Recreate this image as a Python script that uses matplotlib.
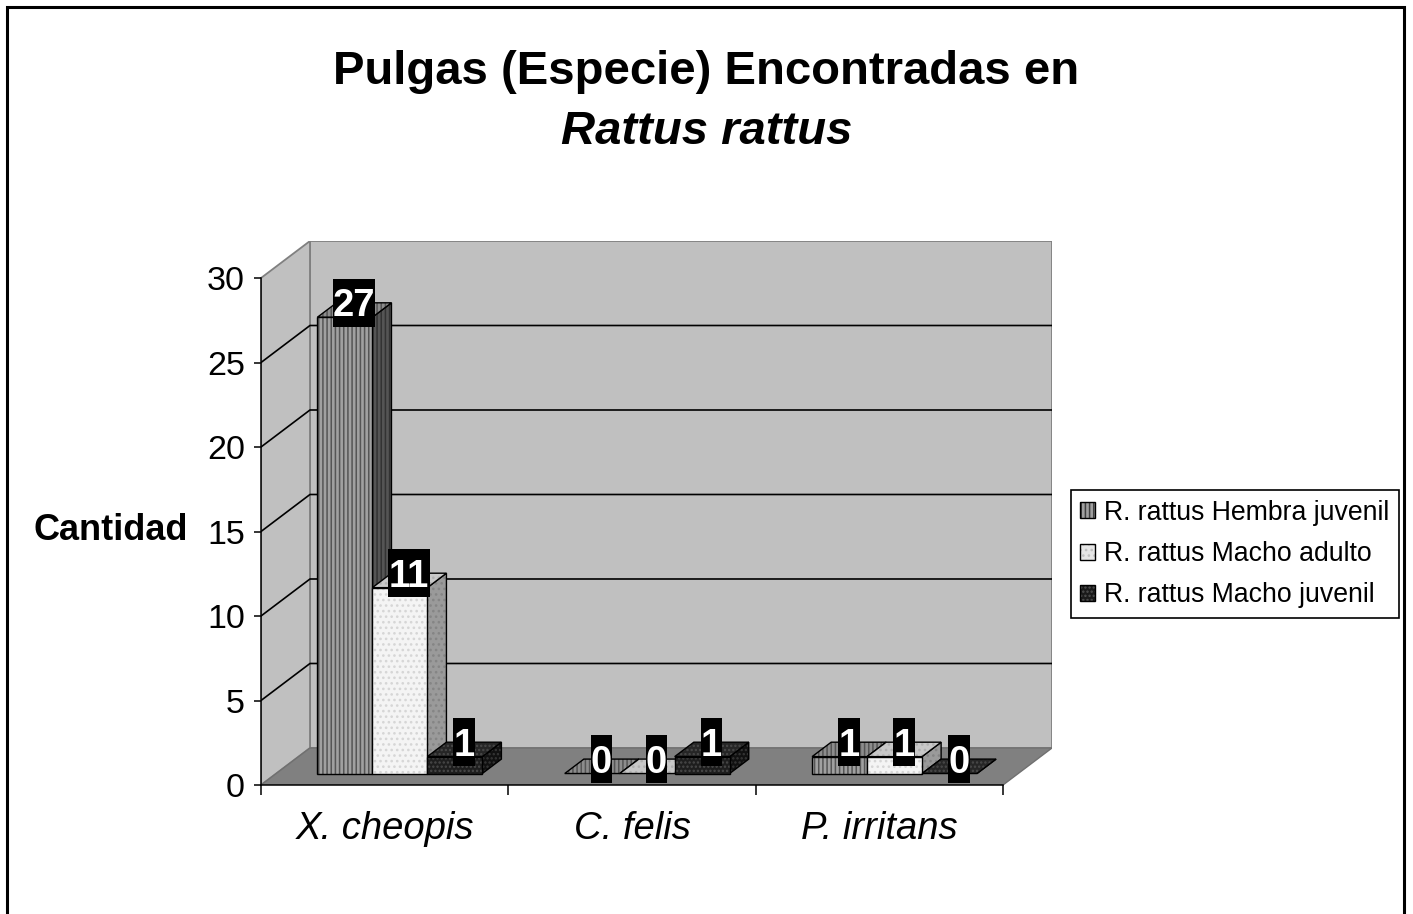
import matplotlib
matplotlib.use('Agg')
import matplotlib.pyplot as plt
import matplotlib.transforms as mtransforms
from matplotlib.patches import Polygon, Patch, Rectangle

plt.rcParams['font.family'] = ['Liberation Sans', 'DejaVu Sans']
plt.rcParams['hatch.linewidth'] = 1.1

# data
categories = ['X. cheopis', 'C. felis', 'P. irritans']
series_names = ['R. rattus Hembra juvenil', 'R. rattus Macho adulto', 'R. rattus Macho juvenil']
hembra_juvenil = [27, 0, 1]
macho_adulto = [11, 0, 1]
macho_juvenil = [1, 1, 0]
yticks = [0, 5, 10, 15, 20, 25, 30]

series_values = [hembra_juvenil, macho_adulto, macho_juvenil]

# face styles per series: front, side, top -> (fill, hatch, hatch colour)
styles = [
    [('#a0a0a0', '||||', '#555555'), ('#555555', '||||', '#333333'), ('#8c8c8c', '||||', '#555555')],
    [('#f4f4f4', '...', '#d6d6d6'), ('#9a9a9a', '...', '#858585'), ('#c8c8c8', '...', '#b0b0b0')],
    [('#1e1e1e', '....', '#4a4a4a'), ('#111111', '....', '#383838'), ('#262626', '....', '#4a4a4a')],
]
legend_styles = [('#a0a0a0', '||||', '#404040'), ('#e6e6e6', '...', '#c0c0c0'), ('#1a1a1a', '....', '#505050')]

# pseudo 3D geometry (depth offset in data units)
DX, DY = 0.198, 2.19
D0, D1 = 0.31, 0.70
bar_w = 1 / 4.5
ymax = 30


def pt(x, v, d):
    return (x + d * DX, v + d * DY)


fig = plt.figure(figsize=(14.13, 9.14), dpi=100)
ax = fig.add_axes([261 / 1413, 129 / 914, 791 / 1413, 544 / 914])
ax.patch.set_visible(False)


def face(pts, fill, hatch, hcol, z, edge='black', lw=1.0):
    ax.add_patch(Polygon(pts, closed=True, facecolor=fill, edgecolor='none', zorder=z))
    if hatch:
        ax.add_patch(Polygon(pts, closed=True, fill=False, hatch=hatch, edgecolor=hcol, lw=0, zorder=z))
    ax.add_patch(Polygon(pts, closed=True, fill=False, edgecolor=edge, lw=lw, zorder=z))


ncat = len(categories)
# walls and floor
face([pt(0, 0, 1), pt(ncat, 0, 1), pt(ncat, ymax, 1), pt(0, ymax, 1)], '#c0c0c0', None, None, 1, '#808080', 1.3)
face([pt(0, 0, 0), pt(0, 0, 1), pt(0, ymax, 1), pt(0, ymax, 0)], '#c0c0c0', None, None, 1, '#808080', 1.3)
face([pt(0, 0, 0), pt(ncat, 0, 0), pt(ncat, 0, 1), pt(0, 0, 1)], '#808080', None, None, 1.1, '#707070', 1.0)

for v in yticks[1:-1]:
    a, b, c = pt(0, v, 0), pt(0, v, 1), pt(ncat, v, 1)
    ax.plot([a[0], b[0], c[0]], [a[1], b[1], c[1]], color='black', lw=1.2, zorder=1.2)

# bars, drawn left to right
z = 3
labels = []
for i in range(ncat):
    for j, vals in enumerate(series_values):
        v = vals[i]
        x0 = i + (0.75 + j) * bar_w
        x1 = x0 + bar_w
        front, side, top = styles[j]
        face([pt(x1, 0, D0), pt(x1, 0, D1), pt(x1, v, D1), pt(x1, v, D0)], *side, z)
        face([pt(x0, v, D0), pt(x1, v, D0), pt(x1, v, D1), pt(x0, v, D1)], *top, z)
        if v > 0:
            face([pt(x0, 0, D0), pt(x1, 0, D0), pt(x1, v, D0), pt(x0, v, D0)], *front, z)
        z += 0.01
        lx, ly = pt((x0 + x1) / 2, v, 0.5)
        labels.append((lx, ly + 0.45, v))

# data labels: black box, white bold digits
for lx, ly, v in labels:
    w_in = 0.205 * len(str(v)) + 0.01
    tr = fig.dpi_scale_trans + mtransforms.ScaledTranslation(lx, ly, ax.transData)
    ax.add_patch(Rectangle((-w_in / 2, -0.24), w_in, 0.48, transform=tr,
                           facecolor='black', edgecolor='none', zorder=10, clip_on=False))
    ax.annotate(str(v), xy=(lx, ly), xytext=(0, -9.8), textcoords='offset points',
                ha='center', va='baseline', color='white', fontsize=27.5,
                fontweight='bold', zorder=11, annotation_clip=False)

ax.set_xlim(0, ncat + DX)
ax.set_ylim(0, ymax + DY)

# axes
for s in ['top', 'right']:
    ax.spines[s].set_visible(False)
ax.spines['left'].set_bounds(0, ymax)
ax.spines['bottom'].set_bounds(0, ncat)
ax.spines['left'].set_linewidth(1.1)
ax.spines['bottom'].set_linewidth(1.1)

ax.set_yticks(yticks)
ax.tick_params(axis='y', direction='out', length=5, width=1.1, pad=6.5, labelsize=24.5)
ax.set_xticks(range(ncat + 1))
ax.set_xticklabels([])
ax.tick_params(axis='x', which='major', direction='out', length=7, width=1.1)
ax.set_xticks([i + 0.5 for i in range(ncat)], categories, minor=True,
              fontsize=27.5, fontstyle='italic')
ax.tick_params(axis='x', which='minor', length=0, pad=19)

ax.set_ylabel('Cantidad', rotation=0, fontsize=26, fontweight='bold', ha='center', va='center')
ax.yaxis.set_label_coords(-150 / 791, (785 - 531) / 544)

# title
fig.text(0.5, 1 - 72 / 914, 'Pulgas (Especie) Encontradas en', ha='center', va='center',
         fontsize=34, fontweight='bold')
fig.text(0.5, 1 - 132 / 914, 'Rattus rattus', ha='center', va='center',
         fontsize=34, fontweight='bold', fontstyle='italic')

# legend
handles = []
for fill, hatch, hcol in legend_styles:
    handles.append((Patch(facecolor=fill, edgecolor='none'),
                    Patch(fill=False, hatch=hatch, edgecolor=hcol, lw=0),
                    Patch(fill=False, edgecolor='black', lw=1)))
leg = fig.legend(handles, series_names, loc='center', bbox_to_anchor=(1235 / 1413, 1 - 554 / 914),
                 fontsize=19.2, handlelength=0.55, handleheight=0.55, handletextpad=0.35,
                 labelspacing=0.58, borderpad=0.35, fancybox=False, edgecolor='black', framealpha=1)
leg.get_frame().set_linewidth(1.2)

# chart border
fig.add_artist(Rectangle((7 / 1413, -0.05), (1404 - 7) / 1413, 1.05 - 7 / 914,
                         transform=fig.transFigure, fill=False, edgecolor='black', lw=2.2))

fig.savefig('out.png', dpi=100)
